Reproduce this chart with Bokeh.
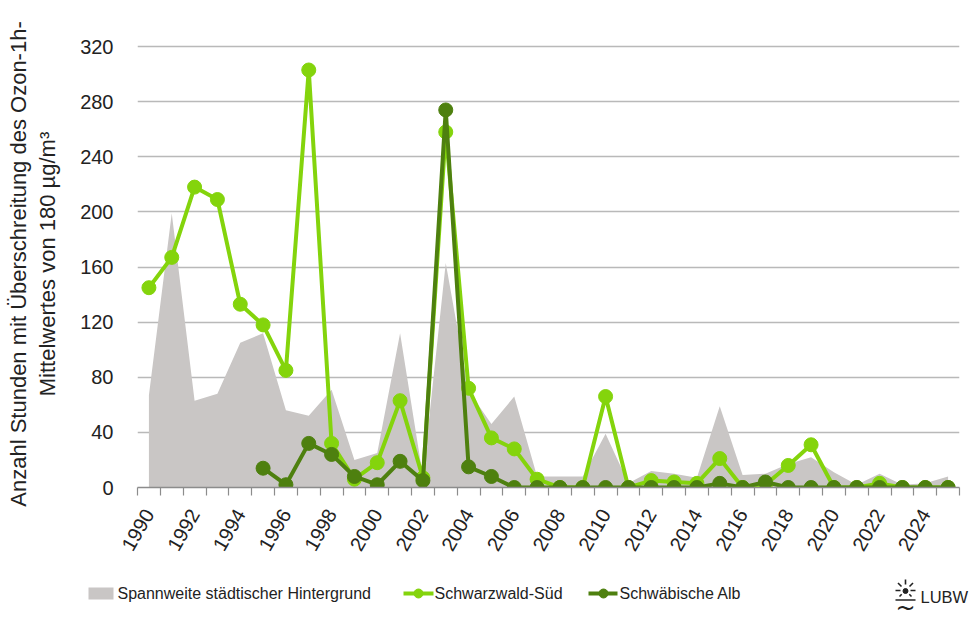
import math

from bokeh.core.properties import value
from bokeh.embed import file_html
from bokeh.layouts import column
from bokeh.models import FixedTicker, LinearAxis, Range1d
from bokeh.plotting import figure
from bokeh.resources import INLINE

# Jahre 1990 bis 2025
jahre = list(range(1990, 2026))

# Spannweite städtischer Hintergrund (Minimum / Maximum)
hintergrund_min = [0] * 36
hintergrund_max = [67, 199, 63, 68, 105, 112, 56, 52, 71, 20, 25, 112, 8, 163,
                   70, 46, 66, 8, 8, 8, 39, 3, 12, 10, 7, 59, 9, 10, 17, 22,
                   11, 2, 10, 2, 3, 8]

# Schwarzwald-Süd
schwarzwald_sued = [145, 167, 218, 209, 133, 118, 85, 303, 32, 6, 18, 63, 7,
                    258, 72, 36, 28, 6, 0, 0, 66, 0, 5, 4, 3, 21, 0, 2, 16,
                    31, 0, 0, 3, 0, 0, 0]

# Schwäbische Alb (Messung ab 1995)
jahre_alb = list(range(1995, 2026))
schwaebische_alb = [14, 2, 32, 24, 8, 2, 19, 5, 274, 15, 8, 0, 0, 0, 0, 0, 0,
                    0, 0, 0, 3, 0, 4, 0, 0, 0, 0, 0, 0, 0, 0]

# Achsenbeschriftungen
y_ticks = [0, 40, 80, 120, 160, 200, 240, 280, 320]
x_label_jahre = list(range(1990, 2025, 2))
y_titel = ["Anzahl Stunden mit Überschreitung des Ozon-1h-",
           "Mittelwertes von 180 µg/m³"]
legenden_texte = ["Spannweite städtischer Hintergrund", "Schwarzwald-Süd",
                  "Schwäbische Alb"]

GRAU = "#c9c6c5"
HELLGRUEN = "#84d40c"
DUNKELGRUEN = "#4e800f"
TEXT = "#222222"
FONT = "Liberation Sans"

W = 975
H_OBEN, H_UNTEN = 560, 69

# ---------------------------------------------------------------- Diagramm
p = figure(width=W, height=H_OBEN, output_backend="svg", toolbar_location=None,
           x_range=Range1d(1989.5, 2025.5), y_range=Range1d(0, 324.4),
           min_border_left=137, min_border_right=16, min_border_top=40,
           min_border_bottom=H_OBEN - 487)
p.frame_align = False
p.outline_line_color = None
p.background_fill_color = "white"
p.border_fill_color = "white"

p.varea(x=jahre, y1=hintergrund_min, y2=hintergrund_max,
        fill_color=GRAU, fill_alpha=1.0)

p.line(jahre, schwarzwald_sued, line_color=HELLGRUEN, line_width=4)
p.scatter(jahre, schwarzwald_sued, size=14, fill_color=HELLGRUEN,
          line_color=HELLGRUEN)

p.line(jahre_alb, schwaebische_alb, line_color=DUNKELGRUEN, line_width=4)
p.scatter(jahre_alb, schwaebische_alb, size=14, fill_color=DUNKELGRUEN,
          line_color=DUNKELGRUEN)

# Gitter
p.xgrid.grid_line_color = None
p.ygrid.grid_line_color = "#b9b9b9"
p.ygrid.grid_line_width = 1.3
p.ygrid.ticker = FixedTicker(ticks=y_ticks)

# y-Achse mit zweiter Titelzeile
p.yaxis.ticker = FixedTicker(ticks=y_ticks)
p.yaxis.axis_line_color = None
p.yaxis.major_tick_line_color = None
p.yaxis.minor_tick_line_color = None
p.yaxis.major_tick_out = 0
p.yaxis.major_label_standoff = 24
p.yaxis.major_label_text_font = FONT
p.yaxis.major_label_text_font_size = "20px"
p.yaxis.major_label_text_color = TEXT
p.yaxis.axis_label = y_titel[1]
p.yaxis.axis_label_standoff = 17

# äußere Achse trägt nur die erste Titelzeile
titel_achse = LinearAxis(ticker=FixedTicker(ticks=[]), axis_label=y_titel[0])
titel_achse.axis_line_color = None
titel_achse.major_tick_line_color = None
titel_achse.minor_tick_line_color = None
titel_achse.major_tick_out = 0
titel_achse.major_label_standoff = 0
titel_achse.axis_label_standoff = 2
p.add_layout(titel_achse, "left")

for achse in (p.yaxis[0], titel_achse):
    achse.axis_label_text_font = FONT
    achse.axis_label_text_font_size = "22px"
    achse.axis_label_text_font_style = "normal"
    achse.axis_label_text_color = TEXT

# x-Achse: Striche an den Jahresgrenzen, Beschriftung jedes zweite Jahr
p.xaxis.ticker = FixedTicker(ticks=x_label_jahre,
                             minor_ticks=[j - 0.5 for j in range(1990, 2027)])
p.xaxis.axis_line_color = "#8c8c8c"
p.xaxis.axis_line_width = 1.5
p.xaxis.major_tick_line_color = None
p.xaxis.major_tick_out = 0
p.xaxis.major_tick_in = 0
p.xaxis.minor_tick_line_color = "#8c8c8c"
p.xaxis.minor_tick_line_width = 1.2
p.xaxis.minor_tick_out = 8
p.xaxis.minor_tick_in = 0
p.xaxis.major_label_orientation = math.radians(60)
p.xaxis.major_label_standoff = 15
p.xaxis.major_label_text_font = FONT
p.xaxis.major_label_text_font_size = "20px"
p.xaxis.major_label_text_color = TEXT

# ------------------------------------------------- Legende und Logo (Fußzeile)
# Koordinaten der Fußzeile entsprechen Seitenpixeln (y nach unten)
f = figure(width=W, height=H_UNTEN, output_backend="svg", toolbar_location=None,
           x_range=Range1d(0, W), y_range=Range1d(H_OBEN + H_UNTEN, H_OBEN),
           x_axis_location=None, y_axis_location=None, min_border=0)
f.frame_align = False
f.grid.grid_line_color = None
f.outline_line_color = None
f.background_fill_color = "white"
f.border_fill_color = "white"

LEG_Y = 593
# Fläche
f.rect(x=[100.5], y=[LEG_Y], width=25, height=12, fill_color=GRAU,
       line_color=None)
# Linien mit Punkt
f.segment(x0=[403, 588], y0=[LEG_Y, LEG_Y], x1=[433, 617], y1=[LEG_Y, LEG_Y],
          line_color=[HELLGRUEN, DUNKELGRUEN], line_width=4)
f.scatter(x=[418, 603], y=[LEG_Y, LEG_Y], size=9,
          fill_color=[HELLGRUEN, DUNKELGRUEN],
          line_color=[HELLGRUEN, DUNKELGRUEN])
f.text(x=[117, 434, 619], y=[LEG_Y] * 3, text=legenden_texte,
       text_font=value(FONT), text_font_size="16px", text_color=TEXT,
       text_baseline="middle", text_align="left")

# LUBW-Logo: Sonne über Horizont und Welle, daneben Schriftzug
sonne_x, sonne_y = 905, 590
strahlen = [(0, -11, 0, -6), (-7.5, -7.5, -4, -4), (7.5, -7.5, 4, -4),
            (-10, 0, -5, 0), (10, 0, 5, 0), (-6, 6, -3.8, 3.8),
            (6, 6, 3.8, 3.8)]
f.segment(x0=[sonne_x + s[0] for s in strahlen],
          y0=[sonne_y + s[1] for s in strahlen],
          x1=[sonne_x + s[2] for s in strahlen],
          y1=[sonne_y + s[3] for s in strahlen],
          line_color=TEXT, line_width=1.6)
f.scatter(x=[sonne_x], y=[sonne_y + 0.5], size=5, fill_color=TEXT,
          line_color=TEXT)
f.segment(x0=[895], y0=[599.5], x1=[915], y1=[599.5], line_color=TEXT,
          line_width=1.6)
f.text(x=[905], y=[607], text=["~"], text_font=value("DejaVu Sans"),
       text_font_size="24px", text_baseline="middle", text_align="center",
       text_color=TEXT)
f.text(x=[920], y=[596], text=["LUBW"], text_font=value(FONT),
       text_font_size="16.5px", text_baseline="middle", text_color=TEXT)

open("out.html", "w").write(file_html(column(p, f, spacing=0), INLINE))
